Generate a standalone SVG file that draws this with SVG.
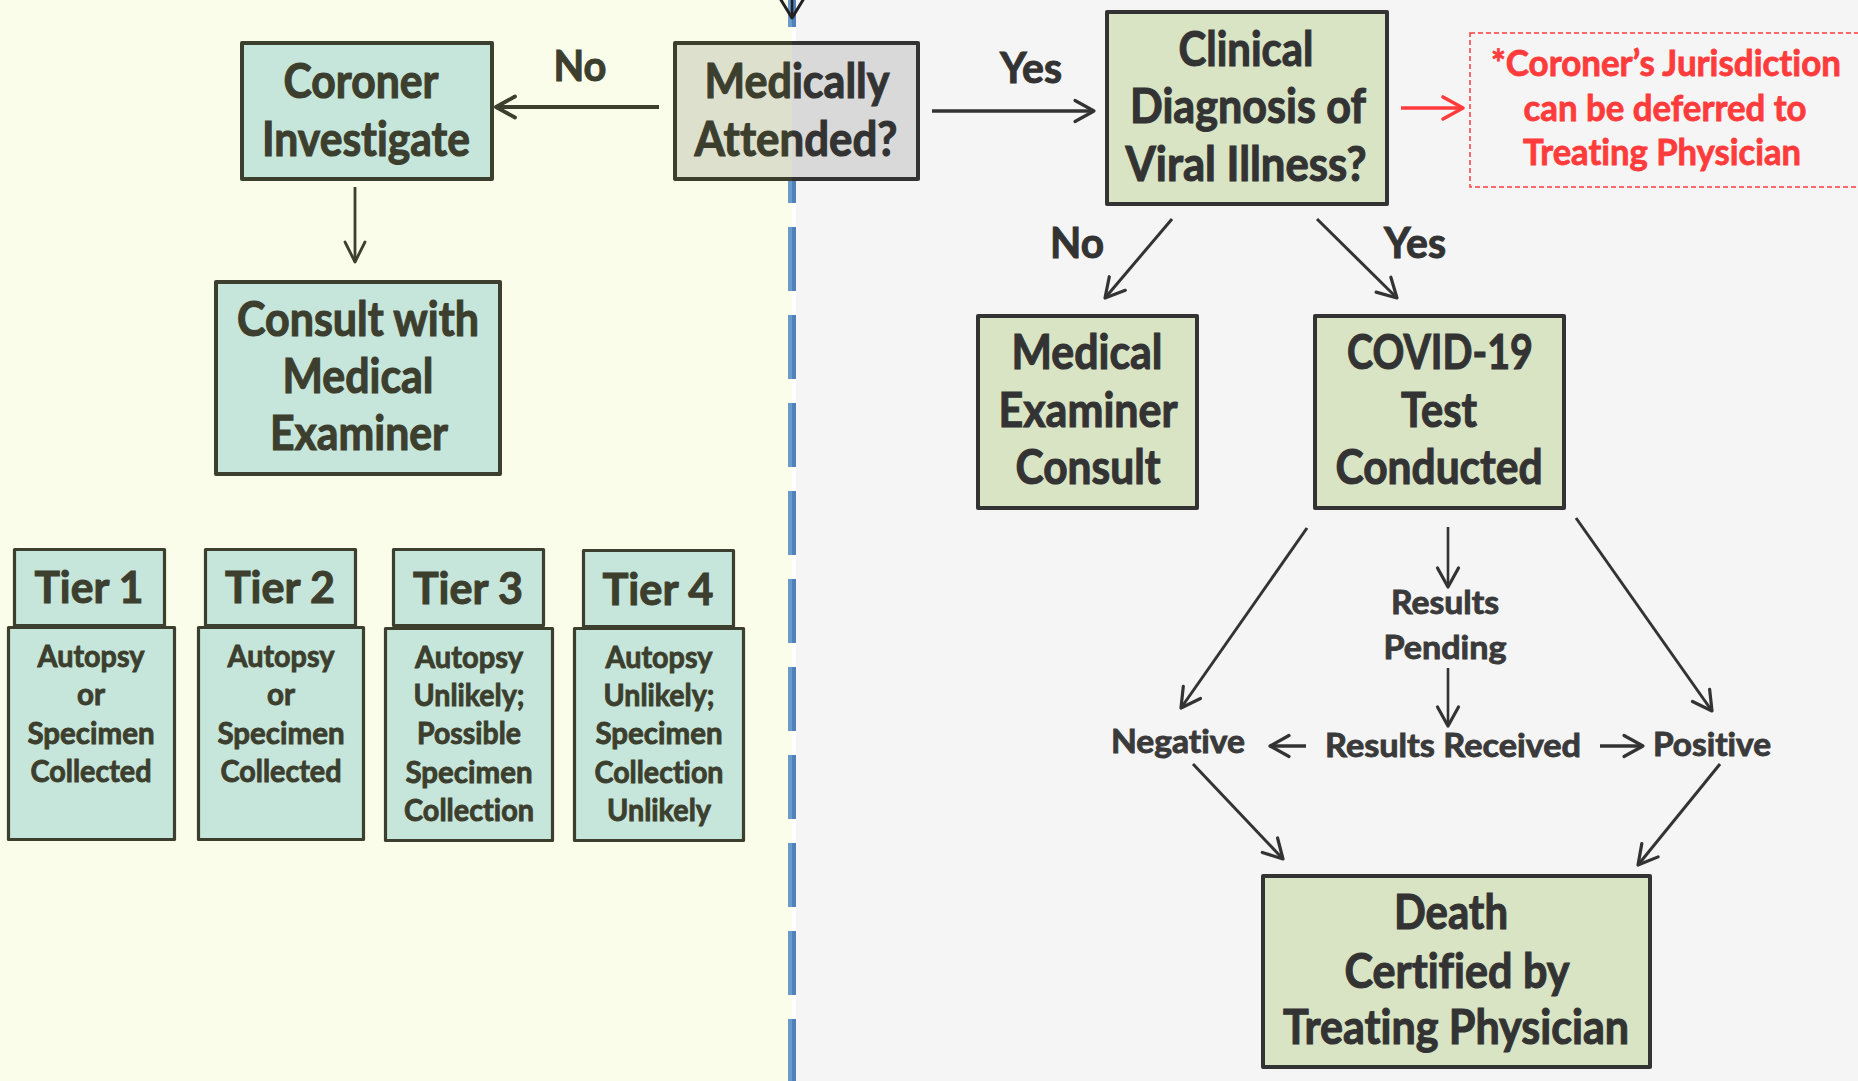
<svg xmlns="http://www.w3.org/2000/svg" width="1858" height="1081" viewBox="0 0 1858 1081">
<style>
text{font-family:Lato,"Open Sans","DejaVu Sans",sans-serif;font-weight:bold;text-anchor:middle;font-variant-ligatures:none}
.big{font-size:47px;stroke-width:1.1px}
.lbl{font-size:42px;stroke-width:1px}
.tier{font-size:43px;stroke-width:1px}
.small{font-size:31px;stroke-width:0.9px}
.mid{font-size:32px;fill:#3A3A3A;stroke:#3A3A3A;stroke-width:0.9px}
.red{font-size:36px;fill:#FF3B3B;stroke:#FF3B3B;stroke-width:0.8px}
.ol{fill:#3C3E2E;stroke:#3C3E2E}
.dk{fill:#333333;stroke:#333333}
.mint{fill:#C6E6DB;stroke:#3C3E2E;stroke-width:4;stroke-linejoin:round}
.mintT{fill:#C6E6DB;stroke:#3C3E2E;stroke-width:3.2;stroke-linejoin:round}
.grn{fill:#D8E4C4;stroke:#333333;stroke-width:4;stroke-linejoin:round}
.cn{fill:none}
</style>
<defs>
<clipPath id="leftClip"><rect x="0" y="0" width="792" height="1081"/></clipPath>
<clipPath id="rightClip"><rect x="792" y="0" width="1066" height="1081"/></clipPath>
<marker id="ahOl" markerUnits="userSpaceOnUse" viewBox="-24 -14 28 28" markerWidth="28" markerHeight="28" refX="0" refY="0" orient="auto"><path d="M-19,-10.5 L0,0 L-19,10.5" fill="none" stroke="#3C3E2E" stroke-width="3.8" stroke-linecap="round" stroke-linejoin="round"/></marker>
<marker id="ahOlT" markerUnits="userSpaceOnUse" viewBox="-24 -14 28 28" markerWidth="28" markerHeight="28" refX="0" refY="0" orient="auto"><path d="M-20,-10 L0,0 L-20,10" fill="none" stroke="#3C3E2E" stroke-width="2.8" stroke-linecap="round" stroke-linejoin="round"/></marker>
<marker id="ahDk" markerUnits="userSpaceOnUse" viewBox="-24 -14 28 28" markerWidth="28" markerHeight="28" refX="0" refY="0" orient="auto"><path d="M-19,-10.5 L0,0 L-19,10.5" fill="none" stroke="#333333" stroke-width="3.2" stroke-linecap="round" stroke-linejoin="round"/></marker>
<marker id="ahBk" markerUnits="userSpaceOnUse" viewBox="-24 -14 28 28" markerWidth="28" markerHeight="28" refX="0" refY="0" orient="auto"><path d="M-18,-11 L0,0 L-18,11" fill="none" stroke="#222222" stroke-width="3" stroke-linecap="round" stroke-linejoin="round"/></marker>
<marker id="ahRed" markerUnits="userSpaceOnUse" viewBox="-24 -14 28 28" markerWidth="28" markerHeight="28" refX="0" refY="0" orient="auto"><path d="M-20,-11 L0,0 L-20,11" fill="none" stroke="#FF3B3B" stroke-width="3.6" stroke-linecap="round" stroke-linejoin="round"/></marker>
</defs>

<g id="background">
<rect x="0" y="0" width="792" height="1081" fill="#FAFDEA"/>
<rect x="792" y="0" width="1066" height="1081" fill="#F5F5F5"/>
<rect x="792" y="0" width="4" height="1081" fill="#FFFFFF"/>
<line x1="790" y1="0" x2="790" y2="1081" stroke="#6B9BC9" stroke-width="4" stroke-dasharray="64 24" stroke-dashoffset="37"/>
<line x1="794" y1="0" x2="794" y2="1081" stroke="#4F81BD" stroke-width="4" stroke-dasharray="64 24" stroke-dashoffset="37"/>
</g>

<g id="connectors" class="cn">
<line x1="792" y1="0" x2="792" y2="18" stroke="#222222" stroke-width="2.6" marker-end="url(#ahBk)"/>
<line x1="659" y1="107" x2="496" y2="107" stroke="#3C3E2E" stroke-width="4" marker-end="url(#ahOl)"/>
<line x1="355" y1="187" x2="355" y2="262" stroke="#3C3E2E" stroke-width="2.8" marker-end="url(#ahOlT)"/>
<line x1="932" y1="111" x2="1094" y2="111" stroke="#333333" stroke-width="3.6" marker-end="url(#ahDk)"/>
<line x1="1401" y1="108" x2="1463" y2="108" stroke="#FF3B3B" stroke-width="3.6" marker-end="url(#ahRed)"/>
<line x1="1172" y1="219" x2="1105" y2="298" stroke="#333333" stroke-width="3" marker-end="url(#ahDk)"/>
<line x1="1317" y1="219" x2="1397" y2="298" stroke="#333333" stroke-width="3" marker-end="url(#ahDk)"/>
<line x1="1307" y1="528" x2="1181" y2="708" stroke="#333333" stroke-width="3" marker-end="url(#ahDk)"/>
<line x1="1448" y1="527" x2="1448" y2="587" stroke="#333333" stroke-width="2.6" marker-end="url(#ahDk)"/>
<line x1="1448" y1="668" x2="1448" y2="726" stroke="#333333" stroke-width="2.6" marker-end="url(#ahDk)"/>
<line x1="1576" y1="518" x2="1712" y2="711" stroke="#333333" stroke-width="3" marker-end="url(#ahDk)"/>
<line x1="1306" y1="746" x2="1270" y2="746" stroke="#333333" stroke-width="3.4" marker-end="url(#ahDk)"/>
<line x1="1600" y1="746" x2="1643" y2="746" stroke="#333333" stroke-width="3.4" marker-end="url(#ahDk)"/>
<line x1="1193" y1="764" x2="1283" y2="859" stroke="#333333" stroke-width="3" marker-end="url(#ahDk)"/>
<line x1="1720" y1="764" x2="1638" y2="865" stroke="#333333" stroke-width="3" marker-end="url(#ahDk)"/>
</g>

<g id="labels">
<text class="lbl ol" x="580" y="81" textLength="53" lengthAdjust="spacingAndGlyphs">No</text>
<text class="lbl dk" x="1031" y="83" textLength="62" lengthAdjust="spacingAndGlyphs">Yes</text>
<text class="lbl dk" x="1077" y="258" textLength="54" lengthAdjust="spacingAndGlyphs">No</text>
<text class="lbl dk" x="1415" y="258" textLength="62" lengthAdjust="spacingAndGlyphs">Yes</text>
<text class="mid" x="1445" y="614" textLength="108" lengthAdjust="spacingAndGlyphs">Results</text>
<text class="mid" x="1445" y="659" textLength="123" lengthAdjust="spacingAndGlyphs">Pending</text>
<text class="mid" x="1178" y="753" textLength="134" lengthAdjust="spacingAndGlyphs">Negative</text>
<text class="mid" x="1453" y="757" textLength="256" lengthAdjust="spacingAndGlyphs">Results Received</text>
<text class="mid" x="1712" y="756" textLength="118" lengthAdjust="spacingAndGlyphs">Positive</text>
</g>

<g id="coroner-investigate">
<rect class="mint" x="242" y="43" width="250" height="136"/>
<text class="big ol" x="361" y="98" textLength="155" lengthAdjust="spacingAndGlyphs">Coroner</text>
<text class="big ol" x="366" y="156" textLength="208" lengthAdjust="spacingAndGlyphs">Investigate</text>
</g>

<g id="medically-attended">
<g clip-path="url(#leftClip)">
<rect x="675" y="43" width="243" height="136" fill="#DEE0CE" stroke="#3C3E2E" stroke-width="4" stroke-linejoin="round"/>
<text class="big ol" x="797" y="98" textLength="185" lengthAdjust="spacingAndGlyphs">Medically</text>
<text class="big ol" x="796" y="156" textLength="203" lengthAdjust="spacingAndGlyphs">Attended?</text>
</g>
<g clip-path="url(#rightClip)">
<rect x="675" y="43" width="243" height="136" fill="#D9D9D9" stroke="#333333" stroke-width="4" stroke-linejoin="round"/>
<text class="big dk" x="797" y="98" textLength="185" lengthAdjust="spacingAndGlyphs">Medically</text>
<text class="big dk" x="796" y="156" textLength="203" lengthAdjust="spacingAndGlyphs">Attended?</text>
</g>
</g>

<g id="consult-medical-examiner">
<rect class="mint" x="216" y="282" width="284" height="192"/>
<text class="big ol" x="358" y="336" textLength="242" lengthAdjust="spacingAndGlyphs">Consult with</text>
<text class="big ol" x="358" y="393" textLength="151" lengthAdjust="spacingAndGlyphs">Medical</text>
<text class="big ol" x="359" y="450" textLength="178" lengthAdjust="spacingAndGlyphs">Examiner</text>
</g>

<g id="tier1">
<rect class="mintT" x="14.5" y="549.5" width="150" height="76"/>
<rect class="mintT" x="8.5" y="627.5" width="166" height="212"/>
<text class="tier ol" x="89" y="603" textLength="109" lengthAdjust="spacingAndGlyphs">Tier 1</text>
<text class="small ol" x="91" y="667" textLength="107" lengthAdjust="spacingAndGlyphs">Autopsy</text>
<text class="small ol" x="91" y="705" textLength="28" lengthAdjust="spacingAndGlyphs">or</text>
<text class="small ol" x="91" y="744" textLength="127" lengthAdjust="spacingAndGlyphs">Specimen</text>
<text class="small ol" x="91" y="782" textLength="121" lengthAdjust="spacingAndGlyphs">Collected</text>
</g>

<g id="tier2">
<rect class="mintT" x="205.5" y="549.5" width="150" height="76"/>
<rect class="mintT" x="198.5" y="627.5" width="165" height="212"/>
<text class="tier ol" x="280" y="603" textLength="110" lengthAdjust="spacingAndGlyphs">Tier 2</text>
<text class="small ol" x="281" y="667" textLength="107" lengthAdjust="spacingAndGlyphs">Autopsy</text>
<text class="small ol" x="281" y="705" textLength="28" lengthAdjust="spacingAndGlyphs">or</text>
<text class="small ol" x="281" y="744" textLength="127" lengthAdjust="spacingAndGlyphs">Specimen</text>
<text class="small ol" x="281" y="782" textLength="121" lengthAdjust="spacingAndGlyphs">Collected</text>
</g>

<g id="tier3">
<rect class="mintT" x="393.5" y="549.5" width="150" height="76"/>
<rect class="mintT" x="385.5" y="628.5" width="167" height="212"/>
<text class="tier ol" x="468" y="604" textLength="110" lengthAdjust="spacingAndGlyphs">Tier 3</text>
<text class="small ol" x="469" y="668" textLength="108" lengthAdjust="spacingAndGlyphs">Autopsy</text>
<text class="small ol" x="469" y="706" textLength="111" lengthAdjust="spacingAndGlyphs">Unlikely;</text>
<text class="small ol" x="469" y="744" textLength="104" lengthAdjust="spacingAndGlyphs">Possible</text>
<text class="small ol" x="469" y="783" textLength="127" lengthAdjust="spacingAndGlyphs">Specimen</text>
<text class="small ol" x="469" y="821" textLength="130" lengthAdjust="spacingAndGlyphs">Collection</text>
</g>

<g id="tier4">
<rect class="mintT" x="583.5" y="550.5" width="150" height="76"/>
<rect class="mintT" x="574.5" y="628.5" width="169" height="212"/>
<text class="tier ol" x="658" y="605" textLength="111" lengthAdjust="spacingAndGlyphs">Tier 4</text>
<text class="small ol" x="659" y="668" textLength="107" lengthAdjust="spacingAndGlyphs">Autopsy</text>
<text class="small ol" x="659" y="706" textLength="111" lengthAdjust="spacingAndGlyphs">Unlikely;</text>
<text class="small ol" x="659" y="744" textLength="127" lengthAdjust="spacingAndGlyphs">Specimen</text>
<text class="small ol" x="659" y="783" textLength="129" lengthAdjust="spacingAndGlyphs">Collection</text>
<text class="small ol" x="659" y="821" textLength="104" lengthAdjust="spacingAndGlyphs">Unlikely</text>
</g>

<g id="clinical-diagnosis">
<rect class="grn" x="1107" y="12" width="280" height="192"/>
<text class="big dk" x="1246" y="66" textLength="135" lengthAdjust="spacingAndGlyphs">Clinical</text>
<text class="big dk" x="1248" y="123" textLength="236" lengthAdjust="spacingAndGlyphs">Diagnosis of</text>
<text class="big dk" x="1246" y="181" textLength="241" lengthAdjust="spacingAndGlyphs">Viral Illness?</text>
</g>

<g id="jurisdiction-note">
<rect x="1470" y="33" width="420" height="154" fill="none" stroke="#FF3B3B" stroke-width="1.5" stroke-dasharray="5 3"/>
<text class="red" x="1666" y="76" textLength="350" lengthAdjust="spacingAndGlyphs">*Coroner’s Jurisdiction</text>
<text class="red" x="1665" y="121" textLength="283" lengthAdjust="spacingAndGlyphs">can be deferred to</text>
<text class="red" x="1662" y="165" textLength="278" lengthAdjust="spacingAndGlyphs">Treating Physician</text>
</g>

<g id="medical-examiner-consult">
<rect class="grn" x="978" y="316" width="219" height="192"/>
<text class="big dk" x="1087" y="369" textLength="151" lengthAdjust="spacingAndGlyphs">Medical</text>
<text class="big dk" x="1088" y="427" textLength="179" lengthAdjust="spacingAndGlyphs">Examiner</text>
<text class="big dk" x="1088" y="484" textLength="145" lengthAdjust="spacingAndGlyphs">Consult</text>
</g>

<g id="covid-test">
<rect class="grn" x="1315" y="316" width="249" height="192"/>
<text class="big dk" x="1440" y="369" textLength="186" lengthAdjust="spacingAndGlyphs">COVID-19</text>
<text class="big dk" x="1439" y="427" textLength="76" lengthAdjust="spacingAndGlyphs">Test</text>
<text class="big dk" x="1439" y="484" textLength="207" lengthAdjust="spacingAndGlyphs">Conducted</text>
</g>

<g id="death-certified">
<rect class="grn" x="1263" y="876" width="387" height="191"/>
<text class="big dk" x="1451" y="929" textLength="114" lengthAdjust="spacingAndGlyphs">Death</text>
<text class="big dk" x="1457" y="988" textLength="225" lengthAdjust="spacingAndGlyphs">Certified by</text>
<text class="big dk" x="1456" y="1044" textLength="346" lengthAdjust="spacingAndGlyphs">Treating Physician</text>
</g>
</svg>
